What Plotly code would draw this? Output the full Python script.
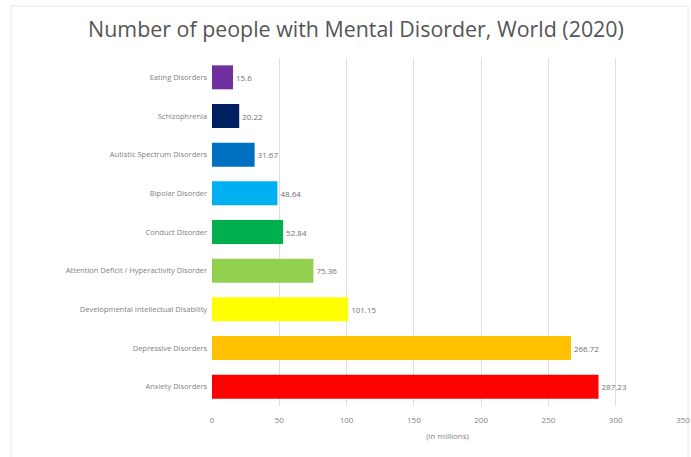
import plotly.graph_objects as go

categories = ["Anxiety Disorders", "Depressive Disorders", "Developmental Intellectual Disability",
              "Attention Deficit / Hyperactivity Disorder", "Conduct Disorder", "Bipolar Disorder",
              "Autistic Spectrum Disorders", "Schizophrenia", "Eating Disorders"]
values = [287.23, 266.72, 101.15, 75.36, 52.84, 48.64, 31.67, 20.22, 15.6]
labels = ["287.23", "266.72", "101.15", "75.36", "52.84", "48.64", "31.67", "20.22", "15.6"]
colors = ["#FF0000", "#FFC000", "#FFFF00", "#92D050", "#00B050", "#00B0F0", "#0070C0", "#002060", "#7030A0"]
x_ticks = [0, 50, 100, 150, 200, 250, 300, 350]

fig = go.Figure(go.Bar(
    y=categories, x=values, orientation="h",
    marker=dict(color=colors, line=dict(width=0)),
    text=labels, textposition="outside", cliponaxis=False,
    textfont=dict(size=8, color="#6F6F6F"),
))

W, H = 691, 457
L, R, T, B = 212, 8, 58, 51
pw, ph = W - L - R, H - T - B

fig.update_layout(
    width=W, height=H,
    margin=dict(l=L, r=R, t=T, b=B),
    paper_bgcolor="white", plot_bgcolor="white",
    bargap=0.38,
    showlegend=False,
    title=dict(text="Number of people with Mental Disorder, World (2020)",
               x=356 / W, xref="container", xanchor="center", y=1 - 30 / H, yref="container", yanchor="middle",
               font=dict(size=21.4, color="#555555", family="Open Sans, Noto Sans, sans-serif")),
    xaxis=dict(range=[0, 350], tickvals=x_ticks, showgrid=True, gridcolor="#E0E0E0", gridwidth=1,
               zeroline=False, showline=False, ticklabelstandoff=8, automargin=False,
               tickfont=dict(size=8, color="#7F7F7F"),
               title=dict(text="(in millions)", font=dict(size=8, color="#7F7F7F"), standoff=9)),
    yaxis=dict(tickfont=dict(size=7.5, color="#7F7F7F"), showgrid=False, ticks="",
               ticksuffix="  ", showline=False, automargin=False),
    shapes=[dict(type="rect", xref="paper", yref="paper",
                 x0=(11 - L) / pw, x1=(688 - L) / pw, y0=-(B + 10) / ph, y1=1 + (T - 6) / ph,
                 line=dict(color="#E6E6E6", width=1), fillcolor="rgba(0,0,0,0)", layer="below")],
)

fig.write_html("out.html")
